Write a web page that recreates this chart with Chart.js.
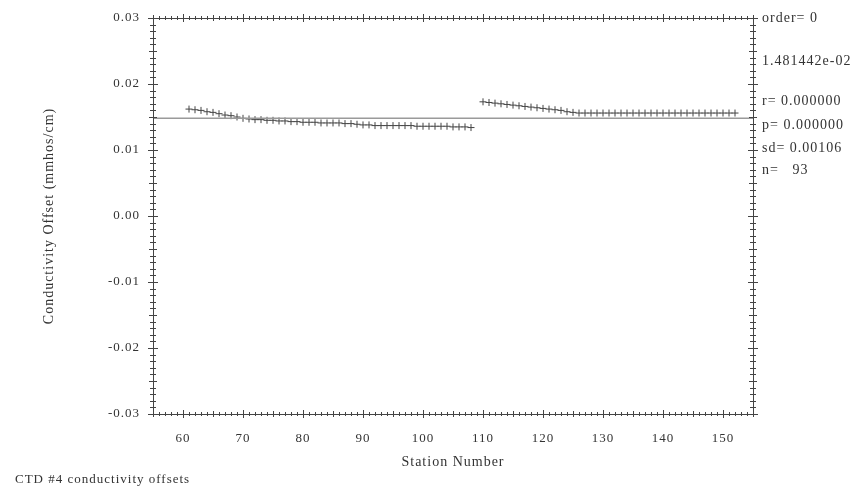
<!DOCTYPE html>
<html>
<head>
<meta charset="utf-8">
<script src="https://cdn.jsdelivr.net/npm/chart.js@4.4.0/dist/chart.umd.min.js"></script>
<style>
  body { margin: 0; background: #fff; }
  #wrap { width: 861px; height: 490px; }
</style>
</head>
<body>
<div id="wrap"><canvas id="myChart" width="861" height="490"></canvas></div>
<script>
// station numbers and offsets
const stationsA = [61, 62, 63, 64, 65, 66, 67, 68, 69, 70, 71, 72, 73, 74, 75, 76, 77, 78, 79, 80,
  81, 82, 83, 84, 85, 86, 87, 88, 89, 90, 91, 92, 93, 94, 95, 96, 97, 98, 99, 100,
  101, 102, 103, 104, 105, 106, 107, 108]
const offsetsA = [0.0162, 0.0161, 0.0160, 0.0158, 0.0157, 0.0155, 0.0153, 0.0152, 0.0150, 0.0148,
  0.0147, 0.0146, 0.0146, 0.0145, 0.0145, 0.0144, 0.0144, 0.0143, 0.0143, 0.0142,
  0.0142, 0.0142, 0.0141, 0.0141, 0.0141, 0.0141, 0.0140, 0.0140, 0.0139, 0.0138,
  0.0138, 0.0137, 0.0137, 0.0137, 0.0137, 0.0137, 0.0137, 0.0137, 0.0136, 0.0136,
  0.0136, 0.0136, 0.0136, 0.0136, 0.0135, 0.0135, 0.0135, 0.0134]
const stationsB = [110, 111, 112, 113, 114, 115, 116, 117, 118, 119, 120, 121, 122, 123, 124, 125,
  126, 127, 128, 129, 130, 131, 132, 133, 134, 135, 136, 137, 138, 139, 140, 141, 142, 143,
  144, 145, 146, 147, 148, 149, 150, 151, 152]
const offsetsB = [0.0173, 0.0172, 0.0171, 0.0170, 0.0169, 0.0168, 0.0167, 0.0166, 0.0165, 0.0164,
  0.0163, 0.0162, 0.0161, 0.0160, 0.0158, 0.0157, 0.0156, 0.0156, 0.0156, 0.0156,
  0.0156, 0.0156, 0.0156, 0.0156, 0.0156, 0.0156, 0.0156, 0.0156, 0.0156, 0.0156,
  0.0156, 0.0156, 0.0156, 0.0156, 0.0156, 0.0156, 0.0156, 0.0156, 0.0156, 0.0156,
  0.0156, 0.0156, 0.0156]
const meanOffset = 1.481442e-02
const xTickValues = [60, 70, 80, 90, 100, 110, 120, 130, 140, 150]
const yTickValues = [-0.03, -0.02, -0.01, 0.00, 0.01, 0.02, 0.03]
const statLines = ['order= 0', '1.481442e-02', 'r= 0.000000', 'p= 0.000000', 'sd= 0.00106', 'n=   93']
const statY = [18, 61, 101, 125, 148, 170]
const caption = 'CTD #4 conductivity offsets'

const ink = '#333'
const serif = '"Liberation Serif", "DejaVu Serif", serif'

function pts(xs, ys) {
    return xs.map((x, i) => ({ x: x, y: ys[i] }))
}

// the old plot has wide-set lettering
const spacing = {
    id: 'spacing',
    beforeInit(chart) { chart.ctx.letterSpacing = '1px' },
    beforeDraw(chart) { chart.ctx.letterSpacing = '1px' }
}

// ticks all round the frame, crossing the axis lines
const frameTicks = {
    id: 'frameTicks',
    afterDraw(chart) {
        const ctx = chart.ctx
        const a = chart.chartArea
        const xs = chart.scales.x
        const ys = chart.scales.y
        ctx.save()
        ctx.strokeStyle = '#444'
        ctx.lineWidth = 1
        ctx.beginPath()
        for (let v = 55; v <= 155; v++) {
            const px = Math.round(xs.getPixelForValue(v)) + 0.5
            let len = 2
            if (v % 5 == 0) len = 3
            if (v % 10 == 0) len = 4
            ctx.moveTo(px, a.bottom - len); ctx.lineTo(px, a.bottom + len)
            ctx.moveTo(px, a.top - len); ctx.lineTo(px, a.top + len)
        }
        for (let k = -30; k <= 30; k++) {
            const py = Math.round(ys.getPixelForValue(k / 1000)) + 0.5
            let len = 3
            if (k % 5 == 0) len = 4
            if (k % 10 == 0) len = 5
            ctx.moveTo(a.left - len, py); ctx.lineTo(a.left + len, py)
            ctx.moveTo(a.right - len, py); ctx.lineTo(a.right + len, py)
        }
        ctx.stroke()
        ctx.strokeRect(Math.round(a.left) + 0.5, Math.round(a.top) + 0.5,
            Math.round(a.right - a.left), Math.round(a.bottom - a.top))

        // statistics on the right and caption under the chart
        ctx.fillStyle = ink
        ctx.letterSpacing = '1px'
        ctx.font = '14px ' + serif
        ctx.textBaseline = 'middle'
        ctx.textAlign = 'left'
        statLines.forEach((t, i) => ctx.fillText(t, a.right + 9, statY[i]))
        ctx.font = '13px ' + serif
        ctx.fillText(caption, 15, 480)
        ctx.restore()
    }
}

const config = {
    type: 'scatter',
    data: {
        datasets: [{
            label: 'mean',
            data: [{ x: 55, y: meanOffset }, { x: 155, y: meanOffset }],
            showLine: true,
            borderColor: '#9a9a9a',
            borderWidth: 1.5,
            pointRadius: 0
        }, {
            label: 'offsets',
            data: pts(stationsA, offsetsA).concat(pts(stationsB, offsetsB)),
            pointStyle: 'cross',
            pointRadius: 3.5,
            borderColor: '#444',
            borderWidth: 1,
            backgroundColor: '#444'
        }]
    },
    options: {
        responsive: false,
        animation: false,
        layout: { padding: { left: 0, top: 18, right: 108, bottom: 0 } },
        plugins: {
            legend: { display: false },
            tooltip: { enabled: false }
        },
        scales: {
            x: {
                type: 'linear',
                min: 55,
                max: 155,
                afterBuildTicks: s => { s.ticks = xTickValues.map(v => ({ value: v })) },
                afterFit: s => { s.height = 76 },
                grid: { display: false },
                border: { display: false },
                ticks: { color: ink, font: { family: serif, size: 13 }, padding: 9, maxRotation: 0 },
                title: {
                    display: true,
                    text: 'Station Number',
                    color: ink,
                    font: { family: serif, size: 14 },
                    padding: { top: 0, bottom: 19 }
                }
            },
            y: {
                type: 'linear',
                min: -0.03,
                max: 0.03,
                afterBuildTicks: s => { s.ticks = yTickValues.map(v => ({ value: v })) },
                afterFit: s => { s.width = 153 },
                grid: { display: false },
                border: { display: false },
                ticks: {
                    color: ink,
                    font: { family: serif, size: 13 },
                    padding: 5,
                    callback: v => (Math.abs(v) < 1e-9 ? 0 : v).toFixed(2)
                },
                title: {
                    display: true,
                    text: 'Conductivity Offset (mmhos/cm)',
                    color: ink,
                    font: { family: serif, size: 14 },
                    padding: { top: 41, bottom: 0 }
                }
            }
        }
    },
    plugins: [spacing, frameTicks]
}

const myChart = new Chart(document.getElementById('myChart'), config)
</script>
</body>
</html>
